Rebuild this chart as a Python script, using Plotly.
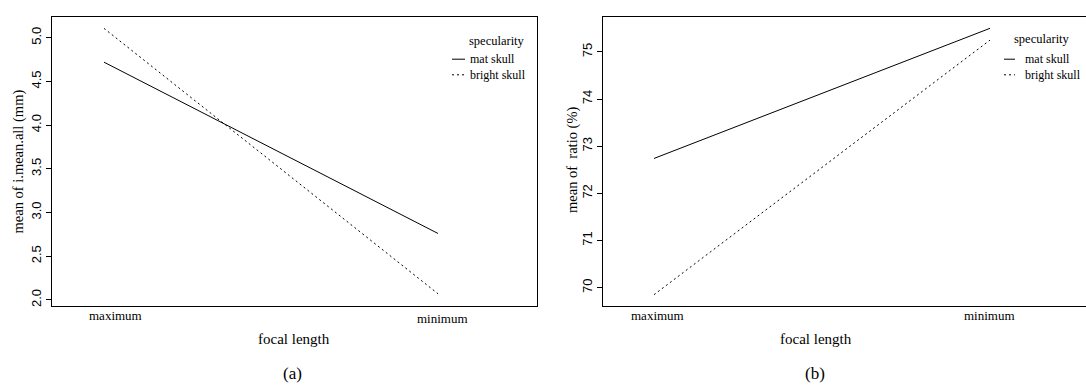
import plotly.graph_objects as go

# data (R interaction plots)
focal_length = ["maximum", "minimum"]
speculars = ["mat skull", "bright skull"]

imean_mat = [4.72, 2.76]
imean_bright = [5.107, 2.07]

ratio_mat = [72.74, 75.50]
ratio_bright = [69.85, 75.25]

W, H = 1086, 385
T, B = 17, 79
SERIF = "Liberation Serif"
SANS = "Liberation Sans"


def px(x):
    return x / W


def py(y):
    return (H - B - y) / (H - T - B)


fig = go.Figure()

dashes = ["solid", "2px,3px"]
panels = [
    ("x", "y", [imean_mat, imean_bright]),
    ("x2", "y2", [ratio_mat, ratio_bright]),
]
for xa, ya, series in panels:
    for name, vals, dash in zip(speculars, series, dashes):
        fig.add_trace(go.Scatter(
            x=[1, 2], y=vals, mode="lines", name=name, xaxis=xa, yaxis=ya,
            line=dict(color="black", width=1, dash=dash), showlegend=False
        ))

axis_common = dict(showline=True, linecolor="black", linewidth=1,
                   showgrid=False, zeroline=False)

fig.update_layout(
    width=W, height=H,
    margin=dict(l=0, r=0, t=T, b=B),
    plot_bgcolor="white", paper_bgcolor="white",
    xaxis=dict(domain=[px(52), px(537)], range=[0.8443, 2.2964],
               showticklabels=False, ticks="", mirror=True, anchor="y",
               **axis_common),
    yaxis=dict(domain=[0, 1], range=[1.93, 5.237], tickvals=[2, 2.5, 3, 3.5, 4, 4.5, 5],
               tickformat=".1f", ticks="outside", ticklen=5, tickcolor="black",
               tickangle=-90, mirror=True, anchor="x",
               tickfont=dict(family=SANS, size=13, color="black"), **axis_common),
    xaxis2=dict(domain=[px(603), 1], range=[0.8482, 2.2857],
                showticklabels=False, ticks="", mirror=True, anchor="y2",
                **axis_common),
    yaxis2=dict(domain=[0, 1], range=[69.61, 75.74], tickvals=[70, 71, 72, 73, 74, 75],
                ticks="outside", ticklen=5, tickcolor="black", tickangle=-90,
                mirror=False, anchor="x2",
                tickfont=dict(family=SANS, size=13, color="black"), **axis_common),
)

ann = []
# category labels under each x axis
label_pos = [("x", [11, 4], [315, 318]), ("x2", [3, -1], [315, 315])]
for xa, shifts, ys in label_pos:
    for i, lab in enumerate(focal_length):
        ann.append(dict(x=i + 1, xref=xa, y=py(ys[i]), yref="paper", text=lab,
                        xshift=shifts[i], xanchor="center", yanchor="middle",
                        showarrow=False,
                        font=dict(family=SERIF, size=13, color="black")))

# axis titles and captions
texts = [
    (294, 339, "focal length", 15, 0),
    (816, 339, "focal length", 15, 0),
    (18, 161.5, "mean of i.mean.all (mm)", 14.5, -90),
    (572, 160, "mean of  ratio (%)", 14.5, -90),
    (292, 373, "(a)", 17, 0),
    (815, 373, "(b)", 17, 0),
]
for x, y, t, s, ang in texts:
    ann.append(dict(x=px(x), y=py(y), xref="paper", yref="paper", text=t,
                    xanchor="center", yanchor="middle",
                    showarrow=False, textangle=ang,
                    font=dict(family=SERIF, size=s, color="black")))

# legends drawn by hand (R style, compact): title, then both entries in one block
LEG_FONT = 12
row_h = LEG_FONT * 1.3
shapes = []
legends = [
    dict(title=(497, 41), line_x=(452, 465), text_x=468, mid=67),
    dict(title=(1042, 39), line_x=(1004, 1015), text_x=1023, mid=67),
]
for lg in legends:
    ann.append(dict(x=px(lg["title"][0]), y=py(lg["title"][1]), xref="paper", yref="paper",
                    text="specularity", xanchor="center", yanchor="middle",
                    showarrow=False,
                    font=dict(family=SERIF, size=12.5, color="black")))
    ann.append(dict(x=px(lg["text_x"]), y=py(lg["mid"]), xref="paper", yref="paper",
                    text="<br>".join(speculars), xanchor="left", yanchor="middle",
                    align="left", showarrow=False,
                    font=dict(family=SERIF, size=LEG_FONT, color="black")))
    for i, dash in enumerate(dashes):
        ry = lg["mid"] + (i - 0.5) * row_h
        shapes.append(dict(type="line", xref="paper", yref="paper",
                           x0=px(lg["line_x"][0]), x1=px(lg["line_x"][1]),
                           y0=py(ry), y1=py(ry),
                           line=dict(color="black", width=1, dash=dash)))

fig.update_layout(annotations=ann, shapes=shapes)

# page body has an 8px default margin; drop it so the figure sits at (0, 0)
fig.write_html("out.html", config={"displayModeBar": False},
               post_script="document.body.style.margin='0px';")
